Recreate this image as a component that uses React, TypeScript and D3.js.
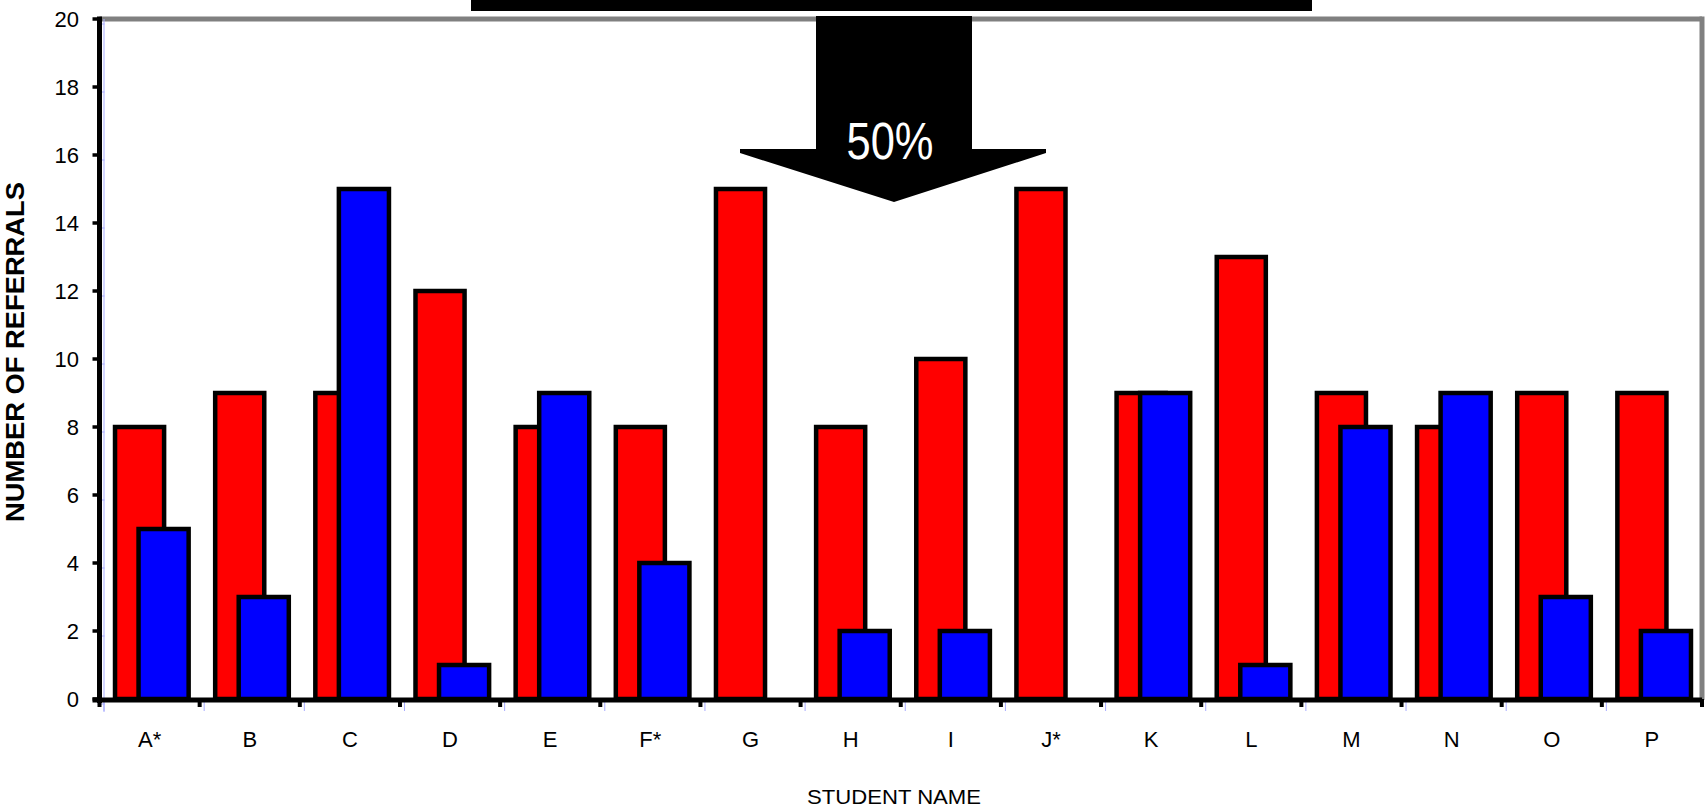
import React, { useEffect } from "react";
import * as d3 from "d3";

const categories = ["A*", "B", "C", "D", "E", "F*", "G", "H", "I", "J*", "K", "L", "M", "N", "O", "P"];
const redValues = [8, 9, 9, 12, 8, 8, 15, 8, 10, 15, 9, 13, 9, 8, 9, 9];
const blueValues = [5, 3, 15, 1, 9, 4, 0, 2, 2, 0, 9, 1, 8, 9, 3, 2];
const yTicks = [0, 2, 4, 6, 8, 10, 12, 14, 16, 18, 20];
const yTitle = "NUMBER OF REFERRALS";
const xTitle = "STUDENT NAME";
const calloutText = "50%";

const W = 1706;
const H = 807;
const left = 99.5;
const right = 1702;
const top = 19;
const bottom = 699;
const FONT = "'Liberation Sans', Arial, sans-serif";

export default function App() {
  useEffect(() => {
    document.body.style.margin = "0";
  }, []);

  const x = d3.scaleBand<string>().domain(categories).range([left, right]).padding(0);
  const y = d3.scaleLinear().domain([0, 20]).range([bottom, top]);
  const bw = x.bandwidth();

  // arrow geometry
  const shaftL = 816, shaftR = 972, shaftTop = 16, headTop = 149, headL = 740, headR = 1046, tipY = 202, tipX = 894;
  const arrowPath = d3.path();
  arrowPath.moveTo(shaftL, shaftTop);
  arrowPath.lineTo(shaftR, shaftTop);
  arrowPath.lineTo(shaftR, headTop);
  arrowPath.lineTo(headR, headTop);
  arrowPath.lineTo(headR, headTop + 4);
  arrowPath.lineTo(tipX, tipY);
  arrowPath.lineTo(headL, headTop + 4);
  arrowPath.lineTo(headL, headTop);
  arrowPath.lineTo(shaftL, headTop);
  arrowPath.closePath();

  return (
    <svg width={W} height={H} style={{ display: "block", background: "#fff" }}>
      {/* plot frame top/right gray */}
      <line x1={left} x2={right} y1={top} y2={top} stroke="#808080" strokeWidth={5} />
      <line x1={right} x2={right} y1={top - 2.5} y2={bottom + 1} stroke="#808080" strokeWidth={5} />

      {/* faint blue artifacts */}
      <line x1={left + 4.5} x2={left + 4.5} y1={top} y2={bottom + 13} stroke="#a8acff" strokeWidth={1} />
      {yTicks.map((t) => (
        <line key={"fb" + t} x1={left - 2} x2={left + 5} y1={y(t) + 5} y2={y(t) + 5} stroke="#a8acff" strokeWidth={1} />
      ))}
      {categories.map((c) => (
        <line key={"fx" + c} x1={(x(c) as number) + 4.5} x2={(x(c) as number) + 4.5} y1={bottom} y2={bottom + 12} stroke="#a8acff" strokeWidth={1} />
      ))}

      {/* bars */}
      {categories.map((c, i) => {
        const x0 = x(c) as number;
        return (
          <g key={c}>
            <rect
              x={x0 + 0.155 * bw}
              y={y(redValues[i])}
              width={0.49 * bw}
              height={y(0) - y(redValues[i])}
              fill="#ff0000"
              stroke="#000"
              strokeWidth={4.5}
            />
            {blueValues[i] > 0 && (
              <rect
                x={x0 + 0.39 * bw}
                y={y(blueValues[i])}
                width={0.5 * bw}
                height={y(0) - y(blueValues[i])}
                fill="#0000ff"
                stroke="#000"
                strokeWidth={4.5}
              />
            )}
          </g>
        );
      })}

      {/* y axis */}
      <line x1={left} x2={left} y1={top - 2.5} y2={bottom + 4} stroke="#000" strokeWidth={5} />
      {yTicks.map((t) => (
        <g key={"yt" + t}>
          <line x1={left - 7} x2={left} y1={y(t)} y2={y(t)} stroke="#000" strokeWidth={3.5} />
          <text x={79} y={y(t)} dy="0.36em" textAnchor="end" fontFamily={FONT} fontSize={22} fill="#000">
            {t}
          </text>
        </g>
      ))}

      {/* x axis */}
      <line x1={left - 7} x2={right} y1={bottom + 1} y2={bottom + 1} stroke="#000" strokeWidth={5} />
      {[...categories.map((c) => x(c) as number), right].map((px, i) => (
        <line key={"xt" + i} x1={px} x2={px} y1={bottom} y2={bottom + 8} stroke="#000" strokeWidth={4} />
      ))}
      {categories.map((c) => (
        <text key={"xl" + c} x={(x(c) as number) + bw / 2} y={747} textAnchor="middle" fontFamily={FONT} fontSize={22} fill="#000">
          {c}
        </text>
      ))}

      {/* axis titles */}
      <text
        x={894}
        y={804}
        textAnchor="middle"
        fontFamily={FONT}
        fontSize={21}
        fill="#000"
        textLength={174}
        lengthAdjust="spacingAndGlyphs"
      >
        {xTitle}
      </text>
      <text
        transform={`translate(24, 352) rotate(-90)`}
        textAnchor="middle"
        fontFamily={FONT}
        fontSize={25}
        fontWeight="bold"
        fill="#000"
        textLength={340}
        lengthAdjust="spacingAndGlyphs"
      >
        {yTitle}
      </text>

      {/* callout */}
      <rect x={471} y={0} width={1312 - 471} height={11} fill="#000" />
      <path d={arrowPath.toString()} fill="#000" />
      <text
        x={890}
        y={159}
        textAnchor="middle"
        fontFamily={FONT}
        fontSize={52}
        fill="#fff"
        textLength={87}
        lengthAdjust="spacingAndGlyphs"
      >
        {calloutText}
      </text>
    </svg>
  );
}
